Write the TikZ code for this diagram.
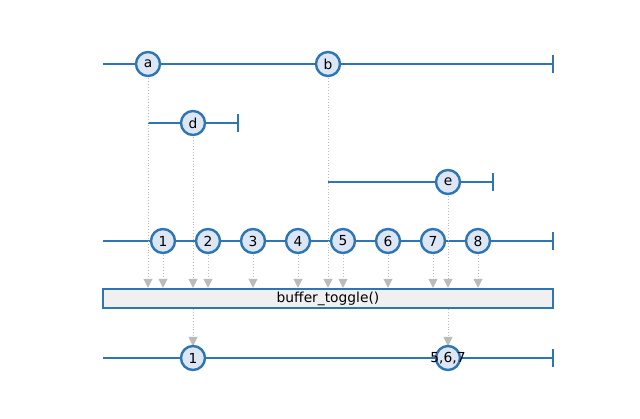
\documentclass[tikz,border=0pt]{standalone}
\usepackage{fontspec}
\setmainfont{DejaVu Sans}
\usetikzlibrary{arrows.meta}
\definecolor{lb}{HTML}{2E75B6}
\definecolor{lf}{HTML}{DCE6F5}
\definecolor{gr}{HTML}{BBBBBB}
\begin{document}
\begin{tikzpicture}[x=1pt,y=-1pt,
  tl/.style={draw=lb,line width=2.8pt},
  mb/.style={circle,draw=lb,fill=lf,line width=2.4pt,minimum size=24pt,inner sep=0pt,font=\fontsize{13.8}{15}\selectfont},
  dl/.style={draw=gr,dotted,line width=0.9pt},
  ar/.style={dl,-{Triangle[length=9pt,width=9pt,fill=gr]},shorten >=0pt}]
\useasboundingbox (0,0) rectangle (640,419);
% timelines
\draw[tl] (103,64) -- (553,64); \draw[tl] (553,55) -- (553,73);
\draw[tl] (148,123) -- (238,123); \draw[tl] (238,114) -- (238,132);
\draw[tl] (328,182) -- (493,182); \draw[tl] (493,173) -- (493,191);
\draw[tl] (103,241) -- (553,241); \draw[tl] (553,232) -- (553,250);
\draw[tl] (103,358) -- (553,358); \draw[tl] (553,349) -- (553,367);
% box
\node[draw=lb,line width=2.4pt,fill=gray!12,minimum width=450pt,minimum height=19pt,inner sep=0pt,font=\fontsize{13.8}{15}\selectfont] (box) at (328,298.5) {buffer\_toggle()};
% connectors
\foreach \m/\x/\y in {a/148/64,b/328/64,d/193/123,e/448/182,n1/163/241,n2/208/241,n3/253/241,n4/298/241,n5/343/241,n6/388/241,n7/433/241,n8/478/241}
  \coordinate (\m) at (\x,\y);
\foreach \m in {a,b,d,e,n1,n2,n3,n4,n5,n6,n7,n8}
  \draw[ar] (\m) -- (\m |- box.north);
\coordinate (o1) at (193,358);
\coordinate (o2) at (448,358);
\draw[ar] (o1 |- box.south) -- ([yshift=12pt]o1);
\draw[ar] (o2 |- box.south) -- ([yshift=12pt]o2);
% marbles
\node[mb] (ma) at (a) {a};
\node[mb] (mbb) at (b) {b};
\node[mb] (md) at (d) {d};
\node[mb] (me) at (e) {e};
\foreach \n in {1,...,8}
  \node[mb] (m\n) at (n\n) {\n};
\node[mb] (mo1) at (o1) {1};
\node[mb] (mo2) at (o2) {};
\node[font=\fontsize{13.8}{15}\selectfont,inner sep=0pt] (lo2) at (mo2) {5,6,7};
\end{tikzpicture}
\end{document}
